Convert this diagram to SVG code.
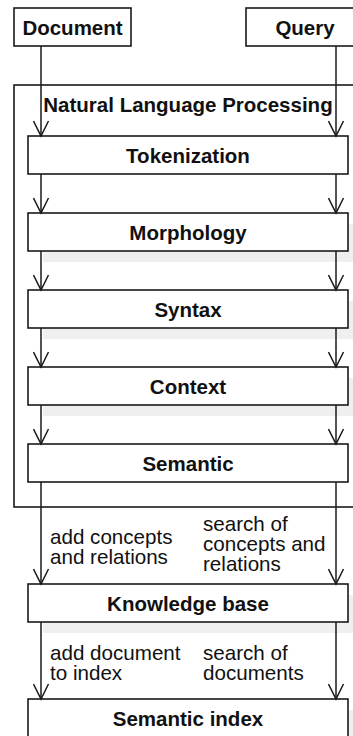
<svg xmlns="http://www.w3.org/2000/svg" width="353" height="736" viewBox="0 0 353 736">
<defs>
<marker id="arr" markerWidth="20" markerHeight="20" refX="8" refY="16" orient="0" markerUnits="userSpaceOnUse" viewBox="0 0 20 20">
<path d="M0.5,1 L8,16 L15.5,1" fill="none" stroke="#1a1a1a" stroke-width="1.5"/>
</marker>
</defs>
<style>
.box{fill:#fff;stroke:#1a1a1a;stroke-width:1.6}
.shadow{fill:#efefef;stroke:none}
.t{font-family:"Liberation Sans",Arial,sans-serif;font-weight:bold;font-size:20.5px;fill:#111;text-anchor:middle}
.l{font-family:"Liberation Sans",Arial,sans-serif;font-size:20.6px;fill:#111}
.c{fill:none;stroke:#1a1a1a;stroke-width:1.5}
</style>
<rect width="353" height="736" fill="#fff"/>
<g id="nlp">
<rect class="box" x="14" y="85" width="350" height="422"/>
<text class="t" x="188" y="111.5">Natural Language Processing</text>
</g>
<g id="document">
<rect class="box" x="14" y="8" width="117" height="38"/>
<text class="t" x="72.5" y="34.5">Document</text>
</g>
<g id="query">
<rect class="box" x="246" y="8" width="118" height="38"/>
<text class="t" x="305" y="34.5">Query</text>
</g>
<g id="tokenization">
<rect class="box" x="28" y="136" width="320" height="38"/>
<text class="t" x="188" y="162.5">Tokenization</text>
</g>
<g id="morphology">
<rect class="shadow" x="43" y="224" width="320" height="38"/>
<rect class="box" x="28" y="213" width="320" height="38"/>
<text class="t" x="188" y="239.5">Morphology</text>
</g>
<g id="syntax">
<rect class="shadow" x="43" y="301" width="320" height="38"/>
<rect class="box" x="28" y="290" width="320" height="38"/>
<text class="t" x="188" y="316.5">Syntax</text>
</g>
<g id="context">
<rect class="shadow" x="43" y="378" width="320" height="38"/>
<rect class="box" x="28" y="367" width="320" height="38"/>
<text class="t" x="188" y="393.5">Context</text>
</g>
<g id="semantic">
<rect class="box" x="28" y="444" width="320" height="38"/>
<text class="t" x="188" y="470.5">Semantic</text>
</g>
<g id="knowledge-base">
<rect class="shadow" x="43" y="595" width="320" height="38"/>
<rect class="box" x="28" y="584" width="320" height="38"/>
<text class="t" x="188" y="610.5">Knowledge base</text>
</g>
<g id="semantic-index">
<rect class="shadow" x="43" y="710" width="320" height="38"/>
<rect class="box" x="28" y="699" width="320" height="38"/>
<text class="t" x="188" y="725.5">Semantic index</text>
</g>
<g id="connectors">
<line class="c" x1="41" y1="46" x2="41" y2="136" marker-end="url(#arr)"/>
<line class="c" x1="336" y1="46" x2="336" y2="136" marker-end="url(#arr)"/>
<line class="c" x1="41" y1="174" x2="41" y2="213" marker-end="url(#arr)"/>
<line class="c" x1="336" y1="174" x2="336" y2="213" marker-end="url(#arr)"/>
<line class="c" x1="41" y1="251" x2="41" y2="290" marker-end="url(#arr)"/>
<line class="c" x1="336" y1="251" x2="336" y2="290" marker-end="url(#arr)"/>
<line class="c" x1="41" y1="328" x2="41" y2="367" marker-end="url(#arr)"/>
<line class="c" x1="336" y1="328" x2="336" y2="367" marker-end="url(#arr)"/>
<line class="c" x1="41" y1="405" x2="41" y2="444" marker-end="url(#arr)"/>
<line class="c" x1="336" y1="405" x2="336" y2="444" marker-end="url(#arr)"/>
<line class="c" x1="41" y1="482" x2="41" y2="584" marker-end="url(#arr)"/>
<line class="c" x1="336" y1="482" x2="336" y2="584" marker-end="url(#arr)"/>
<line class="c" x1="41" y1="622" x2="41" y2="699" marker-end="url(#arr)"/>
<line class="c" x1="336" y1="622" x2="336" y2="699" marker-end="url(#arr)"/>
<text class="l" x="50" y="544">add concepts</text>
<text class="l" x="50" y="564">and relations</text>
<text class="l" x="203" y="531">search of</text>
<text class="l" x="203" y="551">concepts and</text>
<text class="l" x="203" y="571">relations</text>
<text class="l" x="50" y="660">add document</text>
<text class="l" x="50" y="680">to index</text>
<text class="l" x="203" y="660">search of</text>
<text class="l" x="203" y="680">documents</text>
</g>
</svg>
